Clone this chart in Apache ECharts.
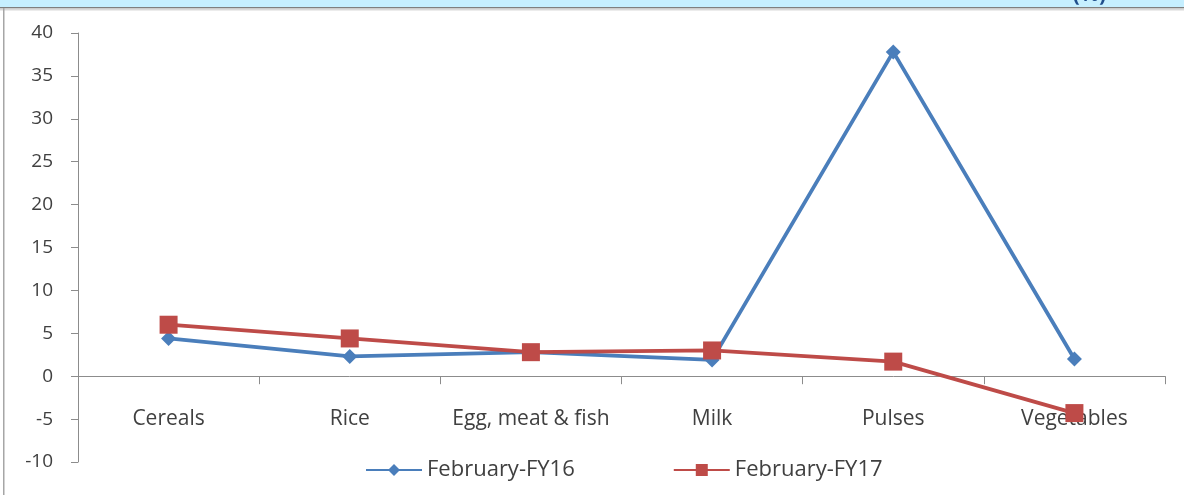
<!DOCTYPE html>
<html>
<head>
<meta charset="utf-8">
<script src="https://cdn.jsdelivr.net/npm/echarts@6/dist/echarts.min.js"></script>
<style>
  html, body { margin: 0; padding: 0; background: #ffffff; }
  #chart { width: 1184px; height: 495px; }
</style>
</head>
<body>
<div id="chart"></div>
<script>
// Food inflation by item, February of each fiscal year (%)
const categories = ['Cereals', 'Rice', 'Egg, meat & fish', 'Milk', 'Pulses', 'Vegetables'];
const seriesNames = ['February-FY16', 'February-FY17'];
const fy16 = [4.4, 2.3, 2.8, 1.9, 37.8, 2.0];
const fy17 = [6.0, 4.4, 2.8, 3.0, 1.7, -4.3];
const yTicks = { min: -10, max: 40, interval: 5 };

const chart = echarts.init(document.getElementById('chart'));
const txt = '#404040';
const axisGray = '#8c8c8c';
const font = '"Open Sans", sans-serif';

chart.setOption({
  backgroundColor: '#ffffff',
  animation: false,
  textStyle: { fontFamily: font },
  graphic: [
    // header band with the clipped title above the plot
    { type: 'rect', left: 0, top: 0, shape: { width: 1184, height: 7 }, style: { fill: '#c6efff' }, z: 10 },
    { type: 'text', right: 78, top: -15, style: { text: '(%)', fill: '#1f4e8c', font: 'bold 21px "Open Sans", sans-serif' }, z: 11 },
    { type: 'rect', left: 0, top: 7, shape: { width: 1184, height: 1.5 }, style: { fill: '#7f7f7f' }, z: 12 },
    { type: 'rect', left: 0, top: 8.5, shape: { width: 1184, height: 2 }, style: { fill: '#d9d9d9' }, z: 12 },
    // frame edge on the left
    { type: 'rect', left: 3, top: 8, shape: { width: 1.5, height: 487 }, style: { fill: '#a6a6a6' }, z: 12 }
  ],
  grid: { left: 78, right: 19, top: 33, bottom: 33, containLabel: false, outerBoundsMode: 'none' },
  legend: {
    top: 454,
    left: 360,
    itemWidth: 56,
    itemHeight: 15,
    itemGap: 98,
    textStyle: { color: txt, fontSize: 22, fontFamily: font },
    data: seriesNames
  },
  xAxis: {
    type: 'category',
    data: categories,
    boundaryGap: true,
    axisLine: { onZero: true, lineStyle: { color: axisGray, width: 1 } },
    axisTick: { show: true, length: 8, inside: false, lineStyle: { color: axisGray } },
    axisLabel: { color: txt, fontSize: 21, margin: -53, interval: 0, fontFamily: font },
    splitLine: { show: false },
    z: 0
  },
  yAxis: {
    type: 'value',
    min: yTicks.min,
    max: yTicks.max,
    interval: yTicks.interval,
    axisLine: { show: true, lineStyle: { color: axisGray, width: 1 } },
    axisTick: { show: true, length: 7, lineStyle: { color: axisGray } },
    axisLabel: { color: txt, fontSize: 19, margin: 25, fontFamily: font },
    splitLine: { show: false }
  },
  series: [
    {
      name: seriesNames[0],
      type: 'line',
      data: fy16,
      symbol: 'diamond',
      symbolSize: 15,
      lineStyle: { color: '#4a7ebb', width: 3.8 },
      itemStyle: { color: '#4a7ebb' },
      z: 3
    },
    {
      name: seriesNames[1],
      type: 'line',
      data: fy17,
      symbol: 'rect',
      symbolSize: 18,
      lineStyle: { color: '#be4b48', width: 3.8 },
      itemStyle: { color: '#be4b48' },
      z: 4
    }
  ]
});
</script>
</body>
</html>
